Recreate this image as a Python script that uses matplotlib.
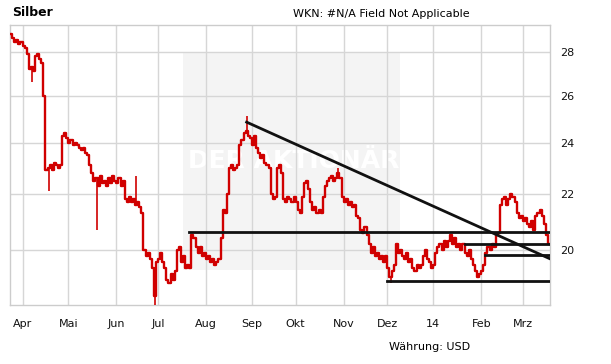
import matplotlib
matplotlib.use("Agg")
import matplotlib.pyplot as plt
from matplotlib.ticker import NullLocator
from matplotlib.patches import Rectangle
import pandas as pd

# trading days, 22.03.2013 - 19.03.2014
dates = pd.bdate_range("2013-03-22", "2014-03-19")

# daily close (USD)
close_mar13 = [28.9, 28.7, 28.5, 28.6, 28.4, 28.5]
close_apr13 = [28.3, 28.2, 27.9, 27.2, 27.3, 27.1, 27.8, 27.9, 27.7, 27.5, 26.0,
               22.9, 23.0, 23.1, 22.9, 23.2, 23.1, 23.0, 23.1, 24.3, 24.4, 24.2]
close_may13 = [24.0, 24.1, 23.9, 24.0, 23.9, 23.8, 23.7, 23.8, 23.6, 23.5, 23.1, 22.8,
               22.5, 22.6, 22.3, 22.7, 22.4, 22.5, 22.3, 22.6, 22.4, 22.7, 22.5]
close_jun13 = [22.4, 22.6, 22.3, 22.5, 21.8, 21.7, 21.9, 21.7, 21.8, 21.6,
               21.7, 21.5, 21.3, 20.0, 19.8, 19.9, 19.7, 19.4, 18.5, 19.6]
close_jul13 = [19.7, 19.9, 19.6, 19.4, 19.0, 18.9, 19.2, 19.0, 19.3, 20.0, 20.1, 19.6,
               19.8, 19.4, 19.5, 19.4, 20.5, 20.4, 20.1, 19.9, 20.1, 19.8, 19.9]
close_aug13 = [19.7, 19.8, 19.6, 19.7, 19.5, 19.6, 19.7, 20.4, 21.4, 21.3, 22.0,
               23.0, 23.1, 22.9, 23.0, 23.1, 23.9, 24.1, 24.4, 24.5, 24.3, 24.2]
close_sep13 = [23.9, 24.3, 23.8, 23.6, 23.4, 23.5, 23.2, 23.1, 23.0, 22.0, 21.8,
               21.9, 23.0, 23.1, 22.8, 21.8, 21.7, 21.9, 21.8, 21.7, 21.9]
close_oct13 = [21.7, 21.4, 21.3, 21.9, 22.4, 22.5, 22.2, 21.7, 21.4, 21.5, 21.3, 21.4,
               21.3, 21.9, 22.3, 22.5, 22.6, 22.7, 22.5, 22.6, 22.8, 22.6, 21.9]
close_nov13 = [21.7, 21.8, 21.6, 21.7, 21.5, 21.6, 21.2, 21.1, 20.7, 20.6, 20.8,
               20.5, 20.2, 19.9, 20.1, 19.8, 19.9, 19.7, 19.8, 19.6, 19.8]
close_dec13 = [19.4, 19.1, 19.3, 19.5, 20.2, 19.9, 20.0, 19.8, 19.7, 19.9, 19.6,
               19.7, 19.4, 19.3, 19.5, 19.4, 19.5, 19.8, 20.0, 19.7, 19.6, 19.4]
close_jan14 = [19.5, 19.9, 20.1, 20.2, 20.0, 20.3, 20.1, 20.3, 20.5, 20.2, 20.4, 20.1,
               20.2, 20.0, 20.2, 19.9, 19.8, 20.0, 19.7, 19.5, 19.3, 19.1, 19.2]
close_feb14 = [19.3, 19.5, 19.9, 20.1, 20.0, 20.2, 20.1, 20.5, 20.6, 21.6,
               21.8, 21.9, 21.6, 21.8, 22.0, 21.9, 21.7, 21.3, 21.1, 21.2]
close_mar14 = [21.0, 21.1, 20.9, 20.8, 21.0, 20.7, 21.2, 21.3, 21.4, 21.2, 20.9, 20.5, 20.2]

closes = (close_mar13 + close_apr13 + close_may13 + close_jun13 + close_jul13
          + close_aug13 + close_sep13 + close_oct13 + close_nov13 + close_dec13
          + close_jan14 + close_feb14 + close_mar14)

# intraday spikes (day index, extreme value)
spike_days = [10, 18, 41, 60, 69, 113, 157, 182]
spike_vals = [26.6, 22.1, 20.7, 22.7, 18.2, 25.1, 23.0, 18.9]

# trend lines drawn on the chart
levels = [20.62, 20.2, 19.82, 18.97]
level_start = ["2013-07-22", "2014-01-22", "2014-02-05", "2013-12-02"]
trend_start = ("2013-08-28", 24.86)
trend_end = ("2014-03-19", 19.7)

month_labels = ["Apr", "Mai", "Jun", "Jul", "Aug", "Sep", "Okt", "Nov", "Dez", "14", "Feb", "Mrz"]
y_ticks = [20, 22, 24, 26, 28]

red = "#d00000"
grid = "#d6d6d6"

x = list(range(len(closes)))
def idx(day):
    # first trading day on or after the given date
    return int(dates.searchsorted(pd.Timestamp(day)))

fig = plt.figure(figsize=(6.11, 3.64), dpi=100)
ax = fig.add_axes([10 / 611, 1 - 305 / 364, 540 / 611, 280 / 364])
ax.set_yscale("log")
ax.set_xlim(-0.5, len(closes) - 0.5)
ax.set_ylim(18.21, 29.33)

# watermark box
ax.add_patch(Rectangle((0.32, 0.125), 0.402, 0.78, transform=ax.transAxes,
                       facecolor="#f4f4f4", edgecolor="none", zorder=0))
ax.text(0.525, 0.515, "DER AKTIONÄR", transform=ax.transAxes, ha="center", va="center",
        fontsize=18, fontweight="bold", color="white", zorder=0.5)

# month grid
month_pos = []
for i in range(1, len(dates)):
    if dates[i].month != dates[i - 1].month:
        month_pos.append(i - 0.5)
for m in month_pos:
    ax.axvline(m, color=grid, lw=1, zorder=1)
for t in y_ticks:
    ax.axhline(t, color=grid, lw=1, zorder=1)

# price bars
ax.plot(x, closes, color=red, lw=1.7, drawstyle="steps-mid", zorder=3)
for d, v in zip(spike_days, spike_vals):
    ax.vlines(d, min(v, closes[d]), max(v, closes[d]), color=red, lw=1.2, zorder=3)

# support / resistance lines
for lv, st in zip(levels, level_start):
    ax.plot([idx(st) - 0.5, len(closes) - 0.5], [lv, lv], color="#111111", lw=2, zorder=4)
ax.plot([idx(trend_start[0]), len(closes) - 0.5], [trend_start[1], trend_end[1]],
        color="#111111", lw=2, zorder=4)

ax.set_xticks(month_pos)
ax.set_xticklabels(month_labels)
ax.set_yticks(y_ticks)
ax.set_yticklabels([str(t) for t in y_ticks])
ax.yaxis.set_minor_locator(NullLocator())
ax.yaxis.tick_right()
ax.tick_params(length=0, labelsize=8, colors="#111111")
ax.tick_params(axis="x", pad=10)
ax.tick_params(axis="y", pad=7)
for s in ax.spines.values():
    s.set_color("#cccccc")
    s.set_linewidth(1)

fig.text(12 / 611, 1 - 12 / 364, "Silber", fontsize=9, fontweight="bold", va="center")
fig.text(293 / 611, 1 - 14 / 364, "WKN: #N/A Field Not Applicable", fontsize=8, va="center")
fig.text(389 / 611, 1 - 347 / 364, "Währung: USD", fontsize=8, va="center")

fig.savefig("out.png", dpi=100)
